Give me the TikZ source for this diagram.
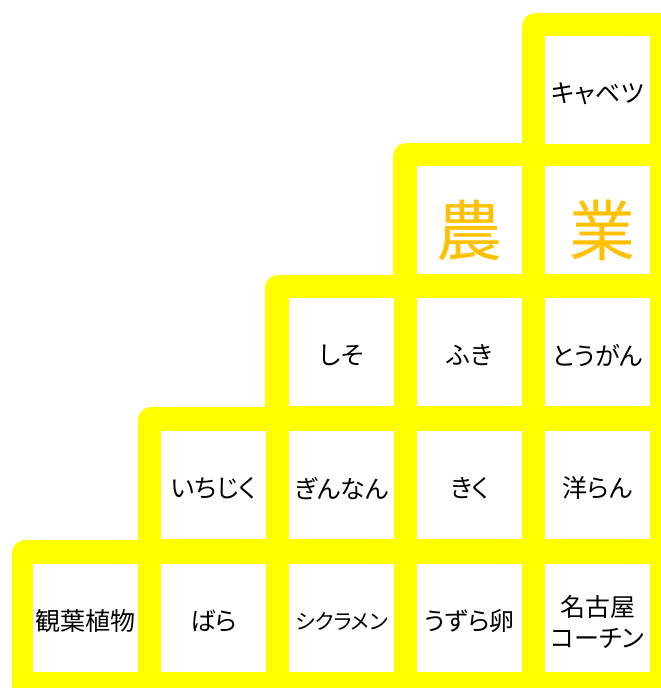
\documentclass[tikz,border=0pt]{standalone}
\usepackage{fontspec}
\newfontfamily\jp[RawFeature={+palt}]{Noto Sans CJK JP}
\definecolor{ylw}{HTML}{FFFF00}
\definecolor{org}{HTML}{FFC000}
\begin{document}
\begin{tikzpicture}[x=1pt,y=-1pt,
  block/.style={fill=ylw, rounded corners=13pt},
  cell/.style={fill=white, minimum width=105pt, minimum height=108pt, inner sep=0pt, anchor=north west},
  txt/.style={font=\jp\fontsize{25}{31}\selectfont, align=center, text=black},
  small/.style={font=\jp\fontsize{21}{24}\selectfont},
  big/.style={font=\jp\fontsize{66}{70}\selectfont, text=org}]
\useasboundingbox (0,0) rectangle (661,688);
\clip (0,0) rectangle (661,688);
% yellow staircase
\fill[block] (522,13) rectangle (720,720);
\fill[block] (393,143) rectangle (720,720);
\fill[block] (265,275) rectangle (720,720);
\fill[block] (138,407) rectangle (720,720);
\fill[block] (12,540) rectangle (720,720);
% row 0
\node[cell] (c04) at (545,36) {};
% row 1
\node[cell] (c13) at (417,166) {};
\node[cell] (c14) at (545,166) {};
% row 2
\node[cell] (c22) at (289,298) {};
\node[cell] (c23) at (417,298) {};
\node[cell] (c24) at (545,298) {};
% row 3
\node[cell] (c31) at (161,431) {};
\node[cell] (c32) at (289,431) {};
\node[cell] (c33) at (417,431) {};
\node[cell] (c34) at (545,431) {};
% row 4
\node[cell] (c40) at (33,564) {};
\node[cell] (c41) at (161,564) {};
\node[cell] (c42) at (289,564) {};
\node[cell] (c43) at (417,564) {};
\node[cell] (c44) at (545,564) {};
% texts
\node[txt] (t04) at ([yshift=-4pt]c04.center) {キャベツ};
\node[txt,big] (t13) at ([yshift=-10pt]c13.center) {農};
\node[txt,big] (t14) at ([xshift=5pt,yshift=-10pt]c14.center) {業};
\node[txt] (t22) at ([yshift=-3pt]c22.center) {しそ};
\node[txt] (t23) at ([yshift=-3pt]c23.center) {ふき};
\node[txt] (t24) at ([yshift=-3pt]c24.center) {とうがん};
\node[txt] (t31) at ([yshift=-3pt]c31.center) {いちじく};
\node[txt] (t32) at ([yshift=-3pt]c32.center) {ぎんなん};
\node[txt] (t33) at ([yshift=-3pt]c33.center) {きく};
\node[txt] (t34) at ([yshift=-3pt]c34.center) {洋らん};
\node[txt] (t40) at ([yshift=-3pt]c40.center) {観葉植物};
\node[txt] (t41) at ([yshift=-3pt]c41.center) {ばら};
\node[txt,small] (t42) at ([yshift=-3pt]c42.center) {シクラメン};
\node[txt] (t43) at ([yshift=-3pt]c43.center) {うずら卵};
\node[txt] (t44) at ([yshift=-4pt]c44.center) {名古屋\\コーチン};
\end{tikzpicture}
\end{document}
